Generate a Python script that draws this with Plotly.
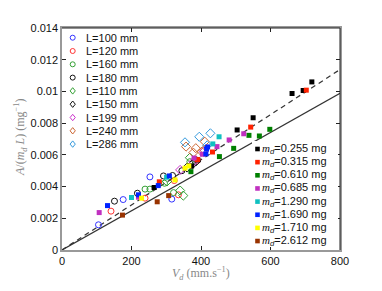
import plotly.graph_objects as go

# ---------------- data ----------------
# Open-marker series (tube length L)
L_NAMES = ["L=100 mm", "L=120 mm", "L=160 mm", "L=180 mm", "L=110 mm",
           "L=150 mm", "L=199 mm", "L=240 mm", "L=286 mm"]
L_SYMBOLS = ["circle-open"] * 4 + ["diamond-open"] * 5
L_COLORS = ["#3333ff", "#ff3333", "#33a033", "#111111", "#33a033",
            "#111111", "#cc33cc", "#cc6633", "#3399dd"]
L_X = [
    [105, 176, 253, 316],
    [141, 239, 335, 323, 390],
    [239, 253, 321, 295, 368],
    [151, 217, 292, 318, 345],
    [340, 349, 368, 302],
    [360, 375, 386],
    [340, 378, 408],
    [357, 385, 378, 409, 411, 402],
    [354, 395, 427, 418],
]
L_Y = [
    [0.00159, 0.00318, 0.00461, 0.00321],
    [0.00245, 0.00327, 0.00348, 0.00438, 0.00566],
    [0.00384, 0.00384, 0.00362, 0.00421, 0.00557],
    [0.00308, 0.00358, 0.00467, 0.00470, 0.00500],
    [0.00375, 0.00343, 0.00582, 0.00432],
    [0.00520, 0.00540, 0.00560],
    [0.00505, 0.00557, 0.00620],
    [0.00652, 0.00642, 0.00614, 0.00631, 0.00683, 0.00620],
    [0.00679, 0.00714, 0.00736, 0.00660],
]

# Filled-square series (mass m_d)
M_VALUES = ["0.255", "0.315", "0.610", "0.685", "1.290", "1.690", "1.710", "2.612"]
M_COLORS = ["#000000", "#ff2200", "#008000", "#c030c0", "#10c0c0",
            "#0022ff", "#ffff00", "#993300"]
M_X = [
    [719, 694, 662, 550, 504, 391, 265, 373],
    [703, 543, 433, 280, 390],
    [538, 568, 598, 494, 453, 371],
    [523, 481, 446, 404, 107, 220, 380],
    [452, 434, 200, 301],
    [416, 414, 131, 220, 277, 309, 419],
    [229, 325, 354, 365],
    [174, 274, 307],
]
M_Y = [
    [0.01060, 0.01006, 0.00987, 0.00834, 0.00757, 0.00568, 0.00394, 0.00530],
    [0.01008, 0.00775, 0.00618, 0.00430, 0.00570],
    [0.00723, 0.00719, 0.00761, 0.00641, 0.00589, 0.00494],
    [0.00733, 0.00694, 0.00652, 0.00604, 0.00236, 0.00333, 0.00580],
    [0.00714, 0.00669, 0.00331, 0.00459],
    [0.00637, 0.00606, 0.00280, 0.00348, 0.00406, 0.00467, 0.00650],
    [0.00327, 0.00442, 0.00516, 0.00530],
    [0.00220, 0.00304, 0.00343],
]

# Reference lines through the origin
LINE_X = [0, 800]
DASHED_Y = [0, 0.01138]
SOLID_Y = [0, 0.00988]

X_TICKS = [0, 200, 400, 600, 800]
Y_TICKS = [0, 0.002, 0.004, 0.006, 0.008, 0.01, 0.012, 0.014]
Y_TICKTEXT = ["0", "0.002", "0.004", "0.006", "0.008", "0.01", "0.012", "0.014"]

# ---------------- figure ----------------
W, H = 382, 291
BODY = 8                      # default page margin of the html body
PL, PR, PT, PB = 62, 340, 28, 250   # plot area in page pixels
PW, PH = PR - PL, PB - PT
ML = PL - BODY
MT = PT - BODY
MR = (BODY + W) - PR
MB = (BODY + H) - PB


def fx(px):
    return (px - PL) / PW


def fy(py):
    return (PB - py) / PH


fig = go.Figure()

fig.add_trace(go.Scatter(x=LINE_X, y=SOLID_Y, mode="lines",
                         line=dict(color="#333333", width=1.2), showlegend=False))
fig.add_trace(go.Scatter(x=LINE_X, y=DASHED_Y, mode="lines",
                         line=dict(color="#333333", width=1.2, dash="5px,4px"),
                         showlegend=False))

for name, sym, col, xs, ys in zip(L_NAMES, L_SYMBOLS, L_COLORS, L_X, L_Y):
    size = 6 if sym.startswith("circle") else 7
    fig.add_trace(go.Scatter(x=xs, y=ys, mode="markers", name=name,
                             marker=dict(symbol=sym, size=size, color=col,
                                         line=dict(width=1, color=col)),
                             showlegend=False))

for val, col, xs, ys in zip(M_VALUES, M_COLORS, M_X, M_Y):
    fig.add_trace(go.Scatter(x=xs, y=ys, mode="markers", name=val,
                             marker=dict(symbol="square", size=5, color=col,
                                         line=dict(width=0)),
                             showlegend=False))

shapes = []
annotations = []

# white background of the mass legend
shapes.append(dict(type="rect", xref="paper", yref="paper", layer="above",
                   x0=fx(252), x1=fx(338), y0=fy(247), y1=fy(141),
                   fillcolor="white", line=dict(width=0)))

# top/right frame lines in black
shapes.append(dict(type="line", xref="paper", yref="paper", layer="above",
                   x0=0, x1=1, y0=1, y1=1, line=dict(color="#222222", width=1)))
shapes.append(dict(type="line", xref="paper", yref="paper", layer="above",
                   x0=1, x1=1, y0=0, y1=1, line=dict(color="#222222", width=1)))

# legend 1 (L)
for i, (name, sym, col) in enumerate(zip(L_NAMES, L_SYMBOLS, L_COLORS)):
    py = 37.7 + 13.3 * i
    if sym.startswith("circle"):
        shapes.append(dict(type="circle", xref="paper", yref="paper", layer="above",
                           xsizemode="pixel", ysizemode="pixel",
                           xanchor=fx(72.7), yanchor=fy(py),
                           x0=-2.5, x1=2.5, y0=-2.5, y1=2.5,
                           line=dict(color=col, width=1)))
    else:
        shapes.append(dict(type="path", xref="paper", yref="paper", layer="above",
                           xsizemode="pixel", ysizemode="pixel",
                           xanchor=fx(72.7), yanchor=fy(py),
                           path="M 0 3.2 L 2.6 0 L 0 -3.2 L -2.6 0 Z",
                           line=dict(color=col, width=1)))
    annotations.append(dict(xref="paper", yref="paper", x=fx(85), y=fy(py),
                            xanchor="left", yanchor="middle", showarrow=False,
                            text=name, borderpad=0,
                            font=dict(family="Liberation Sans, Arial", size=11,
                                      color="#111111")))

# legend 2 (m_d)
for i, (val, col) in enumerate(zip(M_VALUES, M_COLORS)):
    py = 149 + 13.15 * i
    shapes.append(dict(type="rect", xref="paper", yref="paper", layer="above",
                       xsizemode="pixel", ysizemode="pixel",
                       xanchor=fx(257.5), yanchor=fy(py),
                       x0=-2.3, x1=2.3, y0=-2.3, y1=2.3,
                       fillcolor=col, line=dict(width=0)))
    annotations.append(dict(xref="paper", yref="paper", x=fx(261), y=fy(py),
                            xanchor="left", yanchor="middle", showarrow=False,
                            borderpad=0,
                            text=('<span style="font-family:Liberation Serif">'
                                  '<i>m</i></span><sub><i>d</i></sub>=' + val + " mg"),
                            font=dict(family="Liberation Sans, Arial", size=11,
                                      color="#111111")))

# axis titles
annotations.append(dict(xref="paper", yref="paper", x=fx(201), y=fy(273),
                        xanchor="center", yanchor="middle", showarrow=False,
                        text="<i>V</i><sub><i>d</i></sub> (mm.s<sup>−1</sup>)",
                        font=dict(family="Liberation Serif, DejaVu Serif", size=12,
                                  color="#888888")))
annotations.append(dict(xref="paper", yref="paper", x=fx(20), y=fy(138),
                        xanchor="center", yanchor="middle", showarrow=False,
                        textangle=-90,
                        text="<i>A</i>/(<i>m</i><sub><i>d</i></sub> <i>L</i>) (mg<sup>−1</sup>)",
                        font=dict(family="Liberation Serif, DejaVu Serif", size=12,
                                  color="#888888")))

fig.update_layout(
    width=W, height=H,
    margin=dict(l=ML, r=MR, t=MT, b=MB, pad=0),
    paper_bgcolor="white", plot_bgcolor="white",
    showlegend=False,
    shapes=shapes, annotations=annotations,
    font=dict(family="Liberation Sans, Arial", size=11, color="#111111"),
)
fig.update_xaxes(range=[0, 800], tickvals=X_TICKS, ticks="inside", ticklen=4,
                 tickcolor="#222222", showline=True, linecolor="#999999",
                 linewidth=1.5, mirror="ticks", showgrid=False, zeroline=False,
                 tickfont=dict(size=11, color="#111111"), automargin=False)
fig.update_yaxes(range=[0, 0.014], tickvals=Y_TICKS, ticktext=Y_TICKTEXT,
                 ticks="inside", ticklen=4, tickcolor="#222222", showline=True,
                 linecolor="#999999", linewidth=1.5, mirror="ticks", showgrid=False,
                 zeroline=False, tickfont=dict(size=11, color="#111111"),
                 automargin=False)

fig.write_html("out.html")
